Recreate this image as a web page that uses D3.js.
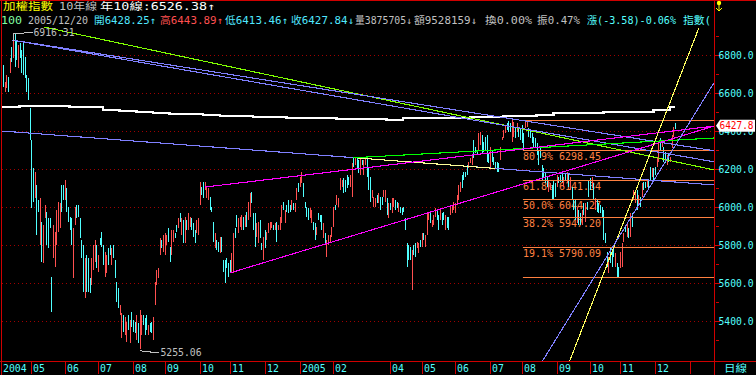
<!DOCTYPE html>
<html>
<head>
<meta charset="utf-8">
<script src="https://cdn.jsdelivr.net/npm/d3@7"></script>
<style>
body { margin: 0; background: #000; }
svg { display: block; }
text { font-family: "DejaVu Sans Mono", "Noto Sans CJK TC", monospace; font-size: 10px; }
</style>
</head>
<body>
<svg id="chart" width="756" height="375"></svg>
<script>
// daily candles 2004/04 - 2005/12/20 (high, low, r = up / c = down)
var hi = [6747,6660,6695,6686,6783,6844,6879,6916,6879,6853,6862,6826,6870,6791,6695,6677,6519,6353,6204,6186,
  6116,6037,6046,5923,5905,6011,5976,5940,5940,5634,5905,5870,5984,6028,6019,6116,6116,6142,6098,6002,
  5949,5940,5888,6002,6011,6011,5940,5826,5800,5730,5747,5730,5625,5730,5800,5826,5800,5747,5835,5870,
  5800,5765,5747,5783,5800,5783,5800,5721,5607,5572,5485,5440,5432,5423,5397,5432,5405,5449,5405,5397,
  5432,5388,5458,5432,5432,5414,5432,5379,5388,5397,5423,5607,5669,5677,5835,5826,5853,5862,5853,5888,
  5791,5879,5879,5862,5905,5940,5967,
  5940,5932,5949,5932,5967,5949,5940,5914,5879,5932,5940,6133,6107,6133,6133,6107,6098,6054,6002,5923,
  5862,5826,5818,5844,5844,5721,5721,5730,5704,5721,5756,5862,5888,5958,5940,5949,5958,5949,5958,5976,
  6028,6072,6081,5967,5967,5914,5923,5932,5809,5844,5879,5870,5914,5923,5923,5905,5914,5923,5905,5949,
  6011,6028,5984,6011,6037,6011,6037,6019,6019,6098,6125,6160,6186,6125,6028,6002,5993,5993,5984,5923,
  5914,5897,5967,5958,5958,5914,5862,5826,5853,5853,5897,6002,6011,6063,6046,6151,6142,6151,6142,6168,
  6160,6168,6230,6256,6256,6265,6247,6256,6247,6247,6256,
  6256,6204,6160,6090,6054,6046,6063,6072,6054,6054,6090,6090,6046,6019,6019,6046,6046,6037,6028,6019,
  6002,5993,6002,5940,5809,5800,5791,5774,5800,5809,5818,5809,5826,5862,5862,5853,5967,5975,5967,5932,
  5958,5993,5984,5958,5993,5967,5975,5958,5949,5949,6002,6011,6028,6019,6063,6116,6133,6168,6186,6186,
  6221,6239,6256,6274,6353,6318,6300,6388,6397,6379,6344,6370,6379,6282,6318,6300,6265,6239,6239,6230,
  6318,6370,6405,6432,6440,6455,6440,6456,6449,6414,6440,6423,6414,6432,6388,6450,6455,6414,6405,6388,
  6370,6361,6335,6300,6318,
  6221,6204,6177,6160,6142,6125,6116,6142,6125,6168,6160,6168,6177,6160,6177,6186,6177,6160,6107,6037,
  6037,6002,5984,5967,5984,6019,6019,6028,6142,6151,6160,6125,6046,6037,6019,6011,6002,5984,5862,5765,
  5739,5791,5774,5800,5756,5704,5686,5765,5809,5862,5905,5914,5888,5967,5967,6090,6081,6090,6063,6054,
  6125,6133,6133,6142,6142,6212,6204,6204,6212,6265,6344,6361,6353,6318,6291,6274,6282,6265,6379,6423,
  6444];
var lo = [6633,6607,6625,6607,6704,6765,6783,6739,6774,6730,6783,6704,6695,6677,6607,6563,6353,5993,6028,6046,
  5853,5976,5800,5713,5704,5940,5800,5783,5888,5449,5730,5686,5800,5870,5888,5976,6037,6037,5976,5923,
  5879,5800,5625,5905,5940,5949,5835,5730,5555,5519,5555,5555,5546,5590,5669,5713,5677,5660,5800,5791,
  5695,5634,5651,5695,5747,5695,5730,5625,5502,5467,5432,5309,5344,5326,5291,5353,5283,5370,5344,5335,
  5300,5283,5255,5326,5379,5326,5353,5326,5344,5335,5300,5484,5590,5625,5747,5783,5765,5747,5800,5818,
  5713,5747,5818,5835,5870,5888,5923,
  5853,5809,5809,5879,5879,5897,5879,5844,5809,5862,5853,6011,6063,6046,6090,6046,6037,5984,5976,5818,
  5783,5774,5765,5756,5765,5660,5598,5677,5633,5651,5660,5651,5835,5897,5862,5897,5879,5879,5897,5897,
  5932,5949,6019,5879,5791,5844,5809,5835,5774,5721,5783,5826,5862,5879,5888,5879,5879,5818,5879,5879,
  5914,5984,5914,5976,5967,5976,5984,5984,5976,6037,6081,6107,6125,6054,5993,5949,5932,5940,5914,5879,
  5826,5853,5932,5923,5879,5835,5809,5739,5800,5818,5844,5897,5984,6011,6002,6090,6107,6072,6081,6098,
  6116,6107,6054,6212,6221,6204,6177,6168,6221,6168,6221,
  6160,6090,6028,6046,6002,6002,6019,6019,5984,6011,6054,6028,5958,5940,5984,5967,6002,5984,5993,5976,
  5967,5958,5976,5879,5686,5721,5721,5563,5747,5739,5783,5756,5791,5791,5826,5791,5853,5932,5914,5897,
  5905,5949,5932,5879,5932,5905,5932,5879,5888,5879,5958,5967,5984,5967,6011,6037,6081,6098,6142,6160,
  6168,6204,6230,6221,6256,6282,6274,6300,6326,6282,6291,6300,6239,6230,6212,6239,6221,6204,6186,6186,
  6247,6353,6362,6388,6405,6397,6397,6344,6370,6362,6397,6370,6353,6335,6300,6414,6423,6370,6362,6335,
  6318,6309,6274,6221,6256,
  6142,6151,6125,6107,6081,6090,6037,6037,6054,6107,6125,6133,6133,6107,6142,6125,6107,6090,6037,5984,
  5931,5914,5905,5905,5905,5958,5923,5984,6054,6090,6098,6037,5984,5976,5967,5967,5949,5826,5809,5686,
  5651,5704,5686,5739,5686,5633,5633,5677,5686,5818,5870,5844,5835,5844,5897,6037,6019,5984,6011,6002,
  6054,6090,6098,6107,6098,6142,6160,6142,6168,6212,6239,6300,6318,6239,6230,6221,6239,6239,6309,6370,
  6413];
var dir = "crrcrcrccrcccccccccrccrcrrccccrrrrrccrccccrrcccccrcccrrrcrcccrrccrccccrrcrrcrcccrcrrcccrccrrrrrcrrrccrrccrc" +
  "rcrcrrcccrrrccrrrcccrccrccccccrrccrrrcrcrrcccrrccrcrrrrcrcrrrcrcccrcrrcrrccccrrccrcccrcrrrrrcrrrrccccrrcrccrcrr" +
  "cccrrrcrccrrcrcrrccrcccccccrccrrcrcrrrcrrrccrccrccrrrrrrrccccrrrcccrrcccccrcccccrrrrcccrrcrccccrrcccccccc" +
  "ccccrrcccrcccrcrcrcccrccrcrcccrcrcccccccrcccrccrrrcrcrcrrcrcrccrccrccrrcrccrcrrrc";

// 10-year line, one value every 10 trading days
var maVals = [6526,6532,6532,6532,6525,6525,6511,6505,6500,6495,6489,6487,6484,6481,6479,6476,6474,6471,6468,6466,
  6465,6463,6463,6458,6467,6467,6467,6467,6472,6472,6478,6481,6486,6493,6493,6493,6502,6502,6502,6511,6528];
var maLast = 6526.38;

// month ticks along the bottom (index of first trading day)
var monthLabels = ["2004","05","06","07","08","09","10","11","12","2005","02","04","05","06","07","08","09","10","11","12",""];
var monthIdx = [-1,17,37,57,78,97,118,136,157,178,198,232,251,271,292,311,332,352,370,391,412];

// drawn trend lines: [index, value] pairs
var trendPts = [
  [[24.6,6947],[426.4,6195]],
  [[5.2,6879],[426.4,6296]],
  [[5.2,6879],[426.4,6238]],
  [[-0.8,6400],[426.4,6116]],
  [[209.9,6260],[295.1,6203]],
  [[209.9,6259],[426.4,6363]],
  [[121.1,6105],[426.4,6426]],
  [[136.1,5653],[426.4,6426]],
  [[339.8,5189],[417.3,6942]],
  [[323.5,5189],[426.4,6654]]
];
var trendColors = ["#80ff00","#8080ff","#8080ff","#8080ff","#ffff99","#00ff00","#ff00ff","#ff00ff","#ffff60","#8080ff"];

// golden section lines
var fibHigh = 6455.57, fibLow = 5632.97;
var fibRatios = [1, 0.809, 0.618, 0.5, 0.382, 0.191, 0];
var fibLabels = ["", "80.9% 6298.45", "61.8% 6141.34", "50.0% 6044.27", "38.2% 5947.20", "19.1% 5790.09", ""];
var fibFrom = 311.8, fibTo = 426.4;

var lastClose = 6427.8;
var peak = { i: 6, v: 6916.31 }, trough = { i: 82, v: 5255.06 };

var W = 756, H = 375, plotR = 714, plotB = 361;
var red = "#d00000", cyan = "#55ffff", gray = "#c0c0c0";
var n = Math.min(hi.length, lo.length, dir.length);

var x = d3.scaleLinear().domain([0, n - 1]).range([3, 675]);
var y = d3.scaleLinear().domain([5400, 6800]).range([321, 55]);

var svg = d3.select("#chart");
svg.append("rect").attr("width", W).attr("height", H).attr("fill", "#000");
svg.append("defs").append("clipPath").attr("id", "plot")
  .append("rect").attr("x", 2).attr("y", 1).attr("width", plotR - 2).attr("height", plotB - 1);

function txt(g, s, x0, yc, w, color) {
  return g.append("text").attr("x", x0).attr("y", yc).attr("dy", "0.36em")
    .attr("fill", color).attr("textLength", w).attr("lengthAdjust", "spacingAndGlyphs").text(s);
}

var plot = svg.append("g").attr("clip-path", "url(#plot)");

// dotted grid
plot.selectAll(".grid").data(d3.range(5400, 6801, 200)).join("line")
  .attr("x1", 2).attr("x2", plotR - 1)
  .attr("y1", d => Math.round(y(d)) + 0.5).attr("y2", d => Math.round(y(d)) + 0.5)
  .attr("stroke", "#a00000").attr("stroke-dasharray", "1,3");

// fib labels (under the candles)
var fibG = plot.append("g");
fibRatios.forEach(function (r, k) {
  if (!fibLabels[k]) return;
  var v = fibLow + r * (fibHigh - fibLow);
  txt(fibG, fibLabels[k], x(fibFrom), Math.round(y(v)) + 6, 78, "#ff8040");
});

// 10-year line
var maPts = maVals.map((v, k) => [k === 0 ? -1 : k * 10, v]);
maPts.push([n - 1, maLast]);
plot.append("path").datum(maPts)
  .attr("d", d3.line().x(d => x(d[0])).y(d => Math.round(y(d[1]))).curve(d3.curveStepAfter))
  .attr("fill", "none").attr("stroke", "#fff").attr("stroke-width", 2.5).attr("shape-rendering", "crispEdges");

// candles
var candles = d3.range(n).map(i => ({ i: i, h: hi[i], l: lo[i], up: dir[i] === "r" }));
plot.append("g").selectAll("rect").data(candles).join("rect")
  .attr("x", d => Math.round(x(d.i)))
  .attr("y", d => Math.round(y(d.h)))
  .attr("width", 1)
  .attr("height", d => Math.max(1, Math.round(y(d.l)) - Math.round(y(d.h))))
  .attr("fill", d => d.up ? "#ff5050" : "#50ffff")
  .attr("shape-rendering", "crispEdges");

// fib lines
plot.append("g").selectAll("line").data(fibRatios).join("line")
  .attr("x1", x(fibFrom)).attr("x2", plotR)
  .attr("y1", d => Math.round(y(fibLow + d * (fibHigh - fibLow))) + 0.5)
  .attr("y2", d => Math.round(y(fibLow + d * (fibHigh - fibLow))) + 0.5)
  .attr("stroke", "#ff8040");

// trend lines
plot.append("g").selectAll("line").data(trendPts).join("line")
  .attr("x1", d => x(d[0][0])).attr("y1", d => y(d[0][1]))
  .attr("x2", d => x(d[1][0])).attr("y2", d => y(d[1][1]))
  .attr("stroke", (d, k) => trendColors[k]).attr("stroke-width", 1.1)
  .attr("shape-rendering", "crispEdges");

// high / low markers
var px = Math.round(x(peak.i)) + 0.5, py = Math.round(y(peak.v)) + 0.5;
svg.append("path").attr("d", "M" + px + "," + (py + 7) + "V" + py + "H" + (px + 9) + "l3,-1h7")
  .attr("fill", "none").attr("stroke", gray).attr("shape-rendering", "crispEdges");
txt(svg, peak.v.toFixed(2), px + 20, py - 1, 41, gray);
var tx = Math.round(x(trough.i)) + 0.5, ty = Math.round(y(trough.v)) + 0.5;
svg.append("path").attr("d", "M" + tx + "," + ty + "v1l3,1h6l2,1h7")
  .attr("fill", "none").attr("stroke", gray).attr("shape-rendering", "crispEdges");
txt(svg, trough.v.toFixed(2), tx + 20, ty + 3, 41, gray);

// frame
var frame = svg.append("g").attr("stroke", red).attr("shape-rendering", "crispEdges");
frame.append("line").attr("x1", 0).attr("x2", W).attr("y1", 0.5).attr("y2", 0.5);
frame.append("line").attr("x1", 1.5).attr("x2", 1.5).attr("y1", 0).attr("y2", H);
frame.append("line").attr("x1", plotR + 0.5).attr("x2", plotR + 0.5).attr("y1", 0).attr("y2", H);
frame.append("line").attr("x1", 0).attr("x2", W).attr("y1", plotB + 0.5).attr("y2", plotB + 0.5);

// right axis
var yAxis = d3.axisRight(y).tickValues(d3.range(5400, 6801, 200)).tickSize(5).tickFormat(d3.format(".1f"));
var ga = svg.append("g").attr("transform", "translate(" + (plotR + 0.5) + ",0)").call(yAxis);
ga.select(".domain").remove();
ga.selectAll("line").attr("stroke", red).attr("shape-rendering", "crispEdges");
ga.selectAll("text").attr("x", 4).attr("dy", "0.36em").attr("fill", cyan)
  .attr("textLength", 35).attr("lengthAdjust", "spacingAndGlyphs");
var yMinor = d3.axisRight(y).tickValues(d3.range(5300, 6901, 200)).tickSize(3).tickFormat("");
var gm = svg.append("g").attr("transform", "translate(" + (plotR + 1.5) + ",0)").call(yMinor);
gm.select(".domain").remove();
gm.selectAll("line").attr("stroke", red).attr("shape-rendering", "crispEdges");

// last price box
var by = y(lastClose);
svg.append("polygon")
  .attr("points", [[716, by], [720, by - 6], [755, by - 6], [755, by + 6], [720, by + 6]].join(" "))
  .attr("fill", "#fff");
txt(svg, lastClose.toFixed(1), 719.5, by, 34, "#ff0000");

// bottom axis
var xAxis = d3.axisBottom(x).tickValues(monthIdx).tickSize(12).tickFormat((d, k) => monthLabels[k]);
var gx = svg.append("g").attr("transform", "translate(0," + (plotB + 0.5) + ")").call(xAxis);
gx.select(".domain").remove();
gx.selectAll(".tick").attr("transform", d => "translate(" + (Math.round(x(d)) + 0.5) + ",0)");
gx.selectAll("line").attr("stroke", red).attr("shape-rendering", "crispEdges");
gx.selectAll("text").attr("y", 6.5).attr("x", 1.5).attr("dy", "0.36em").attr("text-anchor", "start")
  .attr("fill", cyan).each(function (d, k) {
    var s = monthLabels[k];
    if (s) d3.select(this).attr("textLength", s.length * 5.9).attr("lengthAdjust", "spacingAndGlyphs");
  });
txt(svg, "日線", 724, 368, 23, cyan);

// header
var head = [
  ["加權指數", 3, 6.5, 50, "#ffff00"],
  ["10年線", 59, 6.5, 38, gray],
  ["年10線:6526.38↑", 100, 6.5, 115, "#ffffff"],
  ["100", 1, 20.5, 21, "#80ffa0"],
  ["2005/12/20", 28, 20.5, 60, gray],
  ["開6428.25↑", 94, 20.5, 62, "#50e8ff"],
  ["高6443.89↑", 160, 20.5, 63, "#ff5050"],
  ["低6413.46↑", 225, 20.5, 63, "#50e8ff"],
  ["收6427.84↓", 291, 20.5, 63, "#50e8ff"],
  ["量3875705↓", 355, 20.5, 57, gray],
  ["額9528159↓", 414, 20.5, 63, gray],
  ["換0.00%", 485, 20.5, 47, gray],
  ["振0.47%", 537, 20.5, 43, gray],
  ["漲(-3.58)-0.06%", 587, 20.5, 89, cyan],
  ["指數(", 683, 20.5, 28, cyan]
];
head.forEach(h => txt(svg, h[0], h[1], h[2], h[3], h[4]));

// small yellow marker at top right
svg.append("circle").attr("cx", 719).attr("cy", 3).attr("r", 2.2).attr("fill", "#ffff00");
svg.append("path").attr("d", "M719,3V11M716,8l3,3l3,-3").attr("fill", "none").attr("stroke", "#ffff00");
</script>
</body>
</html>
